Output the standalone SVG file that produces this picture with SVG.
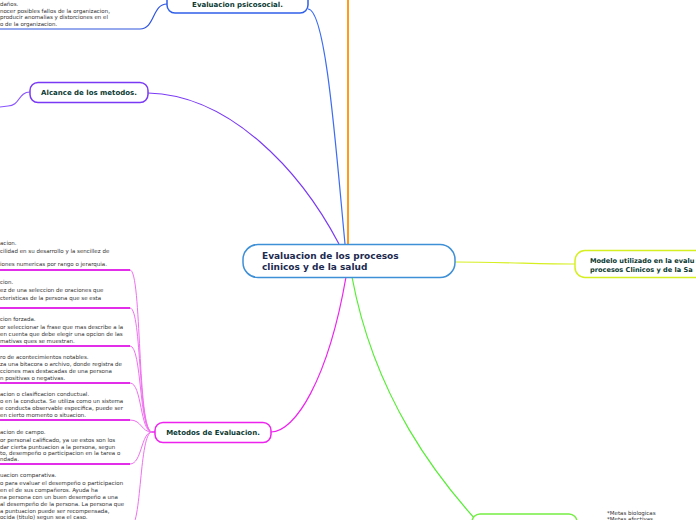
<svg xmlns="http://www.w3.org/2000/svg" width="696" height="520" viewBox="0 0 696 520">
<style>
.node{fill:#fff;stroke-width:1.5}
.lbl{font-family:"DejaVu Sans",Verdana,sans-serif;font-weight:bold;font-size:7px;fill:#0b3a33}
.ctr{font-family:"DejaVu Sans",Verdana,sans-serif;font-weight:bold;font-size:9px;fill:#1c2a50}
.t{font-family:"DejaVu Sans",Verdana,sans-serif;font-size:5.5px;fill:#333}
.c{fill:none}
.mg{stroke:#f070f0;stroke-width:1}
.bar{stroke:#e22ee8;stroke-width:2}
</style>
<rect width="696" height="520" fill="#fff"/>
<g id="connectors">
  <line x1="348" y1="0" x2="348" y2="244" stroke="#ff9a1a" stroke-width="2"/>
  <path class="c" d="M308,9 C326,9 336,150 345,244" stroke="#3a6cf4" stroke-width="1.2"/>
  <path class="c" d="M167,4 C152,4 155,29 140,29 L0,29" stroke="#2f55e0" stroke-width="1.2"/>
  <path class="c" d="M148,93 C230,95 300,170 339,244" stroke="#7a3af5" stroke-width="1.2"/>
  <path class="c" d="M30,92 C18,92 20,106 8,106 L0,107" stroke="#8a55ff" stroke-width="1.2"/>
  <path class="c" d="M271,432 C295,432 328,380 346,277" stroke="#ee22ee" stroke-width="1.2"/>
  <path class="c" d="M352,277 C375,400 440,480 476,520" stroke="#55ee33" stroke-width="1.2"/>
  <path class="c" d="M455,262 C500,262 540,264 575,264" stroke="#d6ef20" stroke-width="1.2"/>
  <line x1="150" y1="432" x2="155" y2="432" stroke="#ee22ee" stroke-width="1.5"/>
  <g class="c mg">
    <path d="M130,270 C142,270 137,432 152,432"/>
    <path d="M130,308 C142,308 138,432 152,432"/>
    <path d="M130,346 C142,346 139,432 152,432"/>
    <path d="M130,383 C142,383 140,432 152,432"/>
    <path d="M130,420 C142,420 141,432 152,432"/>
    <path d="M130,464 C142,464 141,432 152,432"/>
    <path d="M130,528 C142,528 139,432 152,432"/>
  </g>
  <g class="bar">
    <line x1="0" y1="270" x2="130" y2="270"/>
    <line x1="0" y1="308" x2="130" y2="308"/>
    <line x1="0" y1="346" x2="130" y2="346"/>
    <line x1="0" y1="383" x2="130" y2="383"/>
    <line x1="0" y1="420" x2="130" y2="420"/>
    <line x1="0" y1="464" x2="130" y2="464"/>
  </g>
</g>
<g id="central">
  <rect class="node" x="243" y="244.5" width="212" height="33" rx="15" stroke="#3d8fd6"/>
  <text class="ctr" x="262" y="259">Evaluacion de los procesos</text>
  <text class="ctr" x="262" y="270">clinicos y de la salud</text>
</g>
<g id="psicosocial">
  <rect class="node" x="167" y="-10" width="141" height="23" rx="8" stroke="#2f5fe8"/>
  <text class="lbl" x="237.5" y="7" text-anchor="middle">Evaluacion psicosocial.</text>
</g>
<g id="psicosocial-text">
  <text class="t" x="0" y="6">daños.</text>
  <text class="t" x="0" y="12.5">nocer posibles fallos de la organizacion,</text>
  <text class="t" x="0" y="19">producir anomalias y distorciones en el</text>
  <text class="t" x="0" y="25.5">o de la organizacion.</text>
</g>
<g id="alcance">
  <rect class="node" x="30" y="82.5" width="118" height="20" rx="8" stroke="#7a3af5"/>
  <text class="lbl" x="89" y="95" text-anchor="middle">Alcance de los metodos.</text>
</g>
<g id="metodos">
  <rect class="node" x="155" y="422.5" width="116" height="20" rx="8" stroke="#ee22ee"/>
  <text class="lbl" x="213" y="435" text-anchor="middle">Metodos de Evaluacion.</text>
</g>
<g id="metodos-1">
  <text class="t" x="0" y="245">acion.</text>
  <text class="t" x="0" y="253">cilidad en su desarrollo y la sencillez de</text>
  <text class="t" x="0" y="266">iones numericas por rango o jerarquia.</text>
</g>
<g id="metodos-2">
  <text class="t" x="0" y="284">cion.</text>
  <text class="t" x="0" y="292">ez de una seleccion de oraciones que</text>
  <text class="t" x="0" y="299.5">cteristicas de la persona que se esta</text>
</g>
<g id="metodos-3">
  <text class="t" x="0" y="321">cion forzada.</text>
  <text class="t" x="0" y="328.5">or seleccionar la frase que mas describe a la</text>
  <text class="t" x="0" y="335.5">en cuenta que debe elegir una opcion de las</text>
  <text class="t" x="0" y="342.5">mativas ques se muestran.</text>
</g>
<g id="metodos-4">
  <text class="t" x="0" y="358.5">ro de acontecimientos notables.</text>
  <text class="t" x="0" y="365.5">za una bitacora o archivo, donde registra de</text>
  <text class="t" x="0" y="372.5">cciones mas destacadas de una persona</text>
  <text class="t" x="0" y="379.5">n positivas o negativas.</text>
</g>
<g id="metodos-5">
  <text class="t" x="0" y="396">acion o clasificacion conductual.</text>
  <text class="t" x="0" y="403">o en la conducta. Se utiliza como un sistema</text>
  <text class="t" x="0" y="410">e conducta observable especifica, puede ser</text>
  <text class="t" x="0" y="416.5">en cierto momento o situacion.</text>
</g>
<g id="metodos-6">
  <text class="t" x="0" y="433.5">acion de campo.</text>
  <text class="t" x="0" y="441.5">or personal calificado, ya ue estos son los</text>
  <text class="t" x="0" y="448.5">dar cierta puntuacion a la persona, segun</text>
  <text class="t" x="0" y="455">to, desempeño o participacion en la tarea o</text>
  <text class="t" x="0" y="461">ndada.</text>
</g>
<g id="metodos-7">
  <text class="t" x="0" y="477">uacion comparativa.</text>
  <text class="t" x="0" y="484.5">o para evaluar el desempeño o participacion</text>
  <text class="t" x="0" y="491.5">en el de sus compañeros. Ayuda ha</text>
  <text class="t" x="0" y="498.5">na persona con un buen desempeño a una</text>
  <text class="t" x="0" y="505.5">al desempeño de la persona. La persona que</text>
  <text class="t" x="0" y="512.5">a puntuacion puede ser recompensada,</text>
  <text class="t" x="0" y="519">ocida (titulo) segun sea el caso.</text>
</g>
<g id="modelo">
  <rect class="node" x="575" y="250.5" width="140" height="27" rx="10" stroke="#d6ef20"/>
  <text class="lbl" x="590" y="263" style="font-size:6.6px">Modelo utilizado en la evalu</text>
  <text class="lbl" x="590" y="272" style="font-size:6.6px">procesos Clinicos y de la Sa</text>
</g>
<g id="metas-node">
  <rect class="node" x="472" y="514" width="105" height="20" rx="8" stroke="#77ee44"/>
</g>
<g id="metas-text">
  <text class="t" x="607" y="514.5">*Metas biologicas</text>
  <text class="t" x="607" y="520.5">*Metas afectivas</text>
</g>
</svg>
